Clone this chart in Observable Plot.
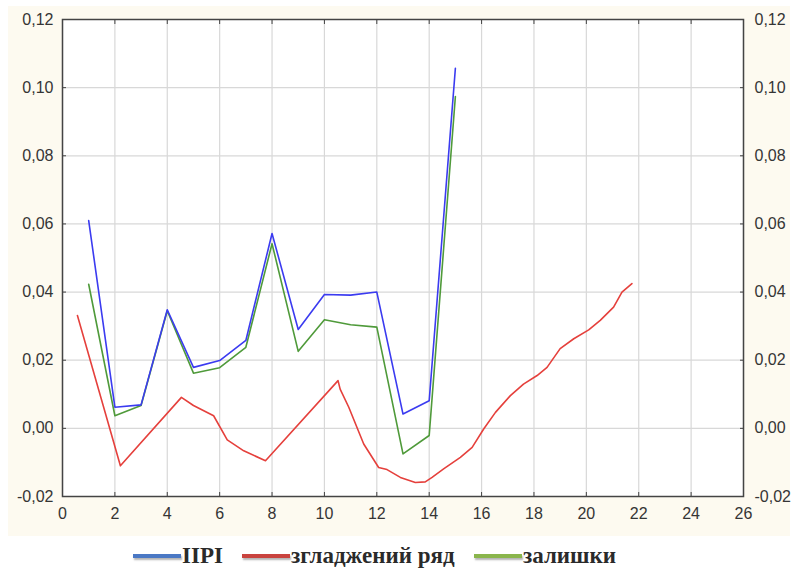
<!DOCTYPE html>
<html>
<head>
<meta charset="utf-8">
<script src="https://cdn.jsdelivr.net/npm/d3@7"></script>
<script src="https://cdn.jsdelivr.net/npm/@observablehq/plot@0.6"></script>
<style>
  html, body { margin: 0; padding: 0; background: #ffffff; }
  #wrap { position: relative; width: 796px; height: 568px; overflow: hidden; background: #fff; }
  #bg { position: absolute; left: 8px; top: 6px; width: 782px; height: 530px; background: #fdfaf0; }
  #chart { position: absolute; left: 0; top: 0; }
  #legend { position: absolute; left: 0; top: 541px; width: 796px; height: 30px;
    font-family: "Liberation Serif", "DejaVu Serif", serif; font-size: 23px; font-weight: bold; color: #2a2a2a; }
  .item { position: absolute; top: 0; display: flex; align-items: center; height: 30px; }
  .sw { display: inline-block; width: 48px; height: 3.5px; margin-right: 1px; box-shadow: 1px 2px 2px rgba(0,0,0,0.3); }
</style>
</head>
<body>
<div id="wrap">
  <div id="bg"></div>
  <div id="chart"></div>
  <div id="legend"></div>
</div>
<script>
// Series names
const seriesNames = ["IIPI", "згладжений ряд", "залишки"];

// IIPI (blue)
const iipiX = [1, 2, 3, 4, 5, 6, 7, 8, 9, 10, 11, 12, 13, 14, 15];
const iipiY = [0.061, 0.0062, 0.0069, 0.0348, 0.0179, 0.0199, 0.0258, 0.0572, 0.029, 0.0393, 0.0391, 0.040, 0.0042, 0.0081, 0.1057];

// залишки (green)
const resX = [1, 2, 3, 4, 5, 6, 7, 8, 9, 10, 11, 12, 13, 14, 15];
const resY = [0.0423, 0.0037, 0.0067, 0.0345, 0.0162, 0.0178, 0.0238, 0.0542, 0.0226, 0.0319, 0.0304, 0.0297, -0.0075, -0.0021, 0.0974];

// згладжений ряд (red)
const smoothX = [0.57, 2.21, 4.54, 5.0, 5.77, 6.29, 6.92, 7.75, 10.52, 10.6, 10.93, 11.5, 12.07, 12.39, 12.9, 13.47, 13.85, 14.11, 14.55, 15.19, 15.64, 16.08, 16.53, 17.1, 17.6, 18.12, 18.5, 19.0, 19.52, 20.09, 20.53, 21.04, 21.36, 21.74];
const smoothY = [0.0331, -0.011, 0.0091, 0.0067, 0.0037, -0.0034, -0.0066, -0.0095, 0.014, 0.0115, 0.0062, -0.0046, -0.0115, -0.0121, -0.0144, -0.0159, -0.0157, -0.0144, -0.0119, -0.0085, -0.0056, -0.0002, 0.0047, 0.0096, 0.013, 0.0155, 0.0179, 0.0234, 0.0263, 0.0289, 0.0317, 0.0356, 0.040, 0.0425];

// Tick values
const xTicks = [0, 2, 4, 6, 8, 10, 12, 14, 16, 18, 20, 22, 24, 26];
const yTicks = [-0.02, 0, 0.02, 0.04, 0.06, 0.08, 0.10, 0.12];

// Colours
const lineColors = ["#3b3bf0", "#e5403c", "#4f9a3a"];
const legendColors = ["#4a78c4", "#c9433e", "#8ab54c"];

const toRows = (xs, ys, s) => xs.map((x, i) => ({x, y: ys[i], s}));
const iipi = toRows(iipiX, iipiY, seriesNames[0]);
const smooth = toRows(smoothX, smoothY, seriesNames[1]);
const res = toRows(resX, resY, seriesNames[2]);

const fmt = d => d.toFixed(2).replace(".", ",");

const chart = Plot.plot({
  width: 796,
  height: 540,
  marginLeft: 62,
  marginRight: 53,
  marginTop: 19,
  marginBottom: 44,
  style: {background: "transparent", fontFamily: "'Liberation Sans', Arial, sans-serif", fontSize: "16px", color: "#353535"},
  x: {domain: [0, 26]},
  y: {domain: [-0.02, 0.12]},
  marks: [
    Plot.frame({fill: "white", stroke: null}),
    Plot.gridX(xTicks, {stroke: "#d8d8d8", strokeOpacity: 1, strokeWidth: 1.2}),
    Plot.gridY(yTicks, {stroke: "#d8d8d8", strokeOpacity: 1, strokeWidth: 1.2}),
    Plot.line(res, {x: "x", y: "y", stroke: lineColors[2], strokeWidth: 1.6}),
    Plot.line(iipi, {x: "x", y: "y", stroke: lineColors[0], strokeWidth: 1.6}),
    Plot.line(smooth, {x: "x", y: "y", stroke: lineColors[1], strokeWidth: 1.6}),
    Plot.frame({stroke: "#444", strokeWidth: 1.5}),
    // labels
    Plot.axisX(xTicks, {anchor: "bottom", tickSize: 0, tickPadding: 11, tickFormat: d => String(d), label: null, fontSize: 16}),
    Plot.axisY(yTicks, {anchor: "left", tickSize: 0, tickPadding: 9, tickFormat: fmt, label: null, fontSize: 16}),
    Plot.axisY(yTicks, {anchor: "right", tickSize: 0, tickPadding: 11, tickFormat: fmt, label: null, fontSize: 16}),
    // inward ticks
    Plot.axisX(xTicks, {anchor: "top", tickSize: 4, dy: 4, text: null, label: null, stroke: "#444"}),
    Plot.axisX(xTicks, {anchor: "bottom", tickSize: 4, dy: -4, text: null, label: null, stroke: "#444"}),
    Plot.axisY(yTicks, {anchor: "left", tickSize: 4, dx: 4, text: null, label: null, stroke: "#444"}),
    Plot.axisY(yTicks, {anchor: "right", tickSize: 4, dx: -4, text: null, label: null, stroke: "#444"})
  ]
});
document.getElementById("chart").appendChild(chart);

// Legend
const legendLefts = [133, 242, 474];
const legend = document.getElementById("legend");
seriesNames.forEach((name, i) => {
  const item = document.createElement("div");
  item.className = "item";
  item.style.left = legendLefts[i] + "px";
  const sw = document.createElement("span");
  sw.className = "sw";
  sw.style.background = legendColors[i];
  const t = document.createElement("span");
  t.textContent = name;
  item.appendChild(sw);
  item.appendChild(t);
  legend.appendChild(item);
});
</script>
</body>
</html>
